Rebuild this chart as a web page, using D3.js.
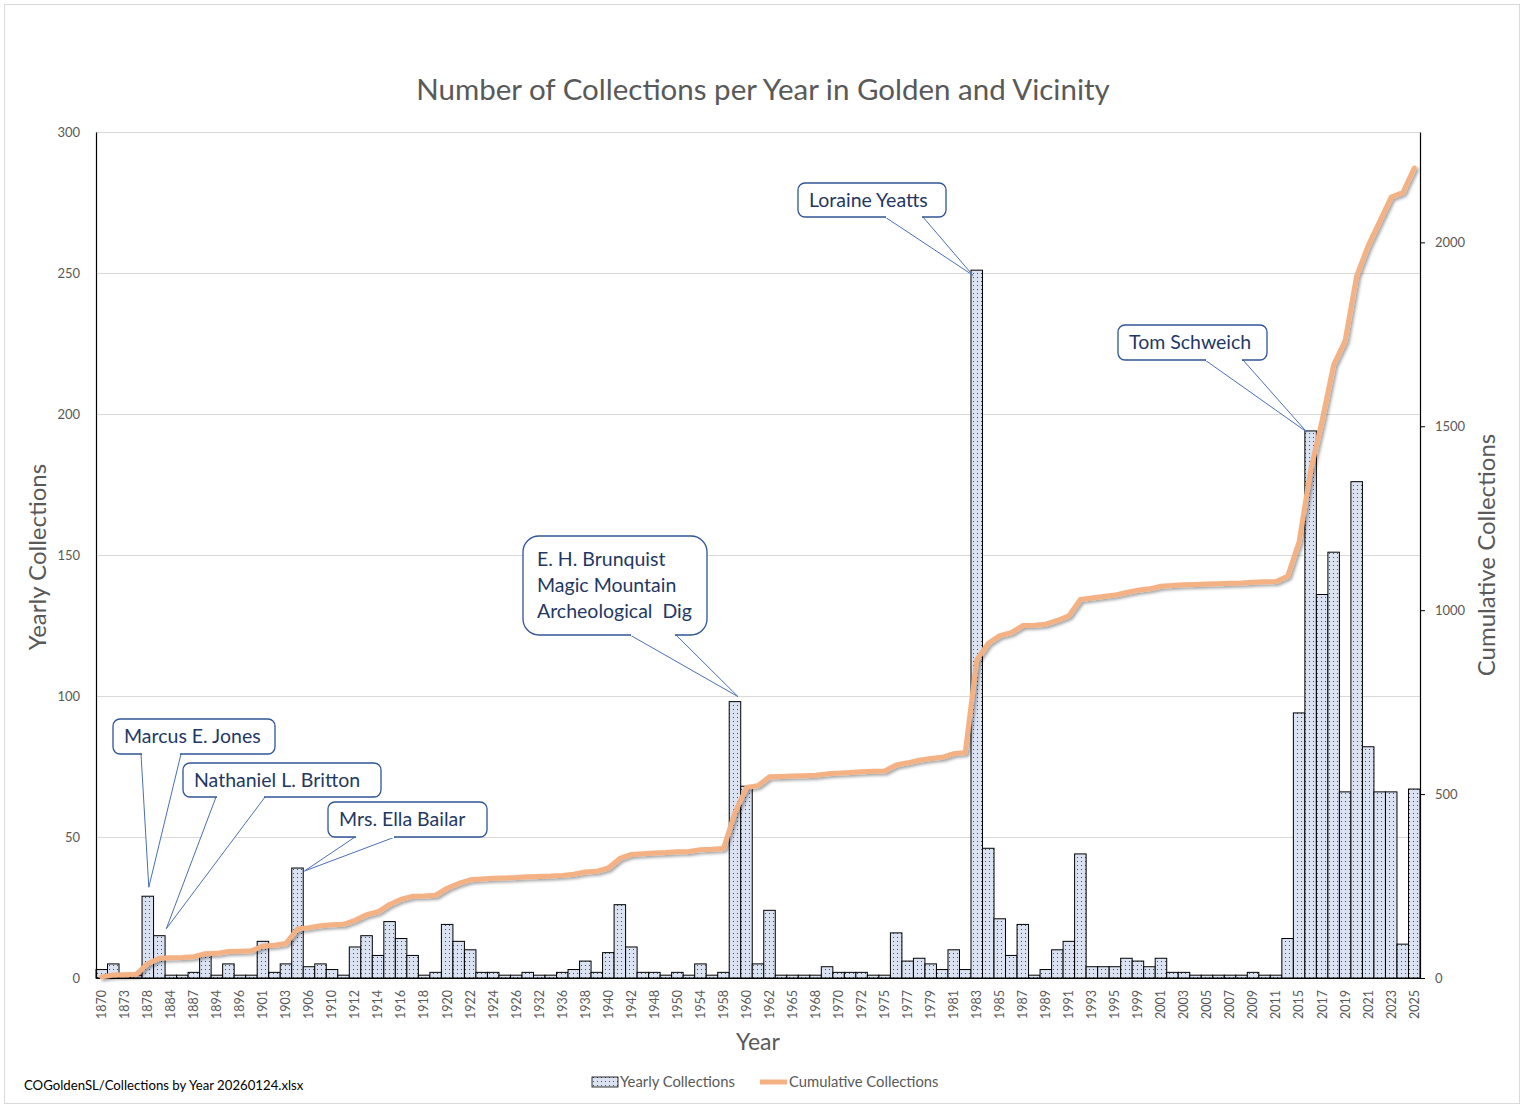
<!DOCTYPE html>
<html>
<head>
<meta charset="utf-8">
<script src="https://cdn.jsdelivr.net/npm/d3@7"></script>
<style>
  html, body { margin: 0; padding: 0; background: #fff; }
  svg { display: block; font-family: Lato, "Noto Sans", sans-serif; }
  text { white-space: pre; }
</style>
</head>
<body>
<script>
// ---------- DATA ----------
const years = [1870,1872,1873,1877,1878,1880,1884,1885,1887,1890,
  1894,1895,1896,1899,1901,1902,1903,1905,1906,1908,
  1910,1911,1912,1913,1914,1915,1916,1917,1918,1919,
  1920,1921,1922,1923,1924,1925,1926,1930,1932,1934,
  1936,1937,1938,1939,1940,1941,1942,1946,1948,1949,
  1950,1952,1954,1956,1958,1959,1960,1961,1962,1963,
  1965,1967,1968,1969,1970,1971,1972,1974,1975,1976,
  1977,1978,1979,1980,1981,1982,1983,1984,1985,1986,
  1987,1988,1989,1990,1991,1992,1993,1994,1995,1997,
  1999,2000,2001,2002,2003,2004,2005,2006,2007,2008,
  2009,2010,2011,2014,2015,2016,2017,2018,2019,2020,
  2021,2022,2023,2024,2025];

const yearlyCollections = [3,5,1,1,29,15,1,1,2,8,
  1,5,1,1,13,2,5,39,4,5,
  3,1,11,15,8,20,14,8,1,2,
  19,13,10,2,2,1,1,2,1,1,
  2,3,6,2,9,26,11,2,2,1,
  2,1,5,1,2,98,68,5,24,1,
  1,1,1,4,2,2,2,1,1,16,
  6,7,5,3,10,3,251,46,21,8,
  19,1,3,10,13,44,4,4,4,7,
  6,4,7,2,2,1,1,1,1,1,
  2,1,1,14,94,194,136,151,66,176,
  82,66,66,12,67];

const cumulativeCollections = Array.from(d3.cumsum(yearlyCollections));

const leftTicks = [0,50,100,150,200,250,300];
const rightTicks = [0,500,1000,1500,2000];

const annotationLabels = [
  {year: 1878, lines: ["Marcus E. Jones"]},
  {year: 1880, lines: ["Nathaniel L. Britton"]},
  {year: 1905, lines: ["Mrs. Ella Bailar"]},
  {year: 1959, lines: ["E. H. Brunquist", "Magic Mountain", "Archeological  Dig"]},
  {year: 1983, lines: ["Loraine Yeatts"]},
  {year: 2016, lines: ["Tom Schweich"]}
];

const titleText = "Number of Collections per Year in Golden and Vicinity";
const footerText = "COGoldenSL/Collections by Year 20260124.xlsx";

// ---------- LAYOUT ----------
const W = 1524, H = 1109;
const plot = {left: 96, right: 1420, top: 132, bottom: 978};

// callout box layout (pixels), same order as annotationLabels
const calloutLayout = [
  {box: [113, 719, 162, 35], base: [141, 181], r: 7, tip: [1, -9]},
  {box: [183, 763, 198, 34], base: [216, 265], r: 7, tip: [7, -7]},
  {box: [328, 802, 159, 35], base: [355, 395], r: 7, tip: [7, 3]},
  {box: [523, 536, 184, 99], base: [630, 676], r: 16, tip: [3, -5]},
  {box: [798, 183, 148, 34], base: [885, 923], r: 7, tip: [-4, 5]},
  {box: [1118, 325, 149, 35], base: [1205, 1243], r: 7, tip: [-4, 1]}
];

const svg = d3.select("body").append("svg")
  .attr("width", W).attr("height", H);

const defs = svg.append("defs");
const pat = defs.append("pattern").attr("id", "dots")
  .attr("patternUnits", "userSpaceOnUse").attr("width", 4).attr("height", 4);
pat.append("rect").attr("width", 4).attr("height", 4).attr("fill", "#dbe3f2");
pat.append("rect").attr("x", 1).attr("y", 1).attr("width", 1).attr("height", 1).attr("fill", "#2f4f82");

const shadow = defs.append("filter").attr("id", "shadow")
  .attr("x", "-5%").attr("y", "-5%").attr("width", "110%").attr("height", "110%");
shadow.append("feDropShadow").attr("dx", 2).attr("dy", 2).attr("stdDeviation", 1.5)
  .attr("flood-color", "#000").attr("flood-opacity", 0.35);

// background + border
svg.append("rect").attr("x", 4.5).attr("y", 4.5).attr("width", 1515).attr("height", 1099)
  .attr("fill", "#fff").attr("stroke", "#d9d9d9").attr("stroke-width", 1);

// scales
const x = d3.scaleBand().domain(years.map(String)).range([plot.left, plot.right]).padding(0);
const yL = d3.scaleLinear().domain([0, 300]).range([plot.bottom, plot.top]);
const yR = d3.scaleLinear().domain([0, 2300]).range([plot.bottom, plot.top]);

// gridlines
svg.append("g").selectAll("line").data(leftTicks.filter(d => d > 0)).join("line")
  .attr("x1", plot.left).attr("x2", plot.right)
  .attr("y1", d => yL(d) + 0.5).attr("y2", d => yL(d) + 0.5)
  .attr("stroke", "#d9d9d9").attr("stroke-width", 1);

// bars
svg.append("g").selectAll("rect").data(years).join("rect")
  .attr("x", d => x(String(d)))
  .attr("y", (d, i) => yL(yearlyCollections[i]))
  .attr("width", x.bandwidth())
  .attr("height", (d, i) => plot.bottom - yL(yearlyCollections[i]))
  .attr("fill", "url(#dots)")
  .attr("stroke", "#000").attr("stroke-width", 1);

// left axis
const axL = svg.append("g").attr("transform", `translate(${plot.left},0)`)
  .call(d3.axisLeft(yL).tickValues(leftTicks).tickSize(0).tickPadding(16));
axL.select(".domain").attr("stroke", "#000").attr("stroke-width", 1.2);
axL.selectAll("text").attr("font-size", 13).attr("fill", "#595959").attr("font-family", "Lato, sans-serif");

// right axis
const axR = svg.append("g").attr("transform", `translate(${plot.right},0)`)
  .call(d3.axisRight(yR).tickValues(rightTicks).tickFormat(d3.format("d"))
    .tickSizeInner(5).tickSizeOuter(0).tickPadding(10));
axR.select(".domain").attr("stroke", "#000").attr("stroke-width", 1.2);
axR.selectAll(".tick line").attr("stroke", "#000");
axR.selectAll("text").attr("font-size", 13).attr("fill", "#595959").attr("font-family", "Lato, sans-serif");

// bottom axis
const axB = svg.append("g").attr("transform", `translate(0,${plot.bottom})`)
  .call(d3.axisBottom(x).tickSize(0).tickValues(years.filter((d, i) => i % 2 === 0).map(String)));
axB.select(".domain").attr("stroke", "#000").attr("stroke-width", 1.2);
axB.selectAll("text")
  .attr("font-size", 12.5).attr("fill", "#595959").attr("font-family", "Lato, sans-serif")
  .attr("text-anchor", "end")
  .attr("transform", "translate(0,12) rotate(-90)")
  .attr("x", 0).attr("y", 0).attr("dy", "0.35em");

// cumulative line
const line = d3.line()
  .x((d, i) => x(String(years[i])) + x.bandwidth() / 2)
  .y(d => yR(d));
svg.append("path").datum(cumulativeCollections)
  .attr("d", line)
  .attr("fill", "none").attr("stroke", "#f4b183").attr("stroke-width", 5)
  .attr("stroke-linejoin", "round").attr("stroke-linecap", "round")
  .attr("filter", "url(#shadow)");

// callouts
annotationLabels.forEach((a, k) => {
  const L = calloutLayout[k];
  const i = years.indexOf(a.year);
  const tx = x(String(a.year)) + x.bandwidth() / 2 + L.tip[0];
  const ty = yL(yearlyCollections[i]) + L.tip[1];
  const [bx, by, bw, bh] = L.box;
  const g = svg.append("g");
  g.append("path")
    .attr("d", `M${L.base[0]},${by + bh}L${tx},${ty}L${L.base[1]},${by + bh}Z`)
    .attr("fill", "#fff").attr("stroke", "#4a6fb5").attr("stroke-width", 1);
  g.append("rect").attr("x", bx).attr("y", by).attr("width", bw).attr("height", bh)
    .attr("rx", L.r).attr("ry", L.r)
    .attr("fill", "#fff").attr("stroke", "#2f5597").attr("stroke-width", 1.3);
  g.append("line").attr("x1", L.base[0] + 1).attr("x2", L.base[1] - 1)
    .attr("y1", by + bh).attr("y2", by + bh).attr("stroke", "#fff").attr("stroke-width", 2);
  const lh = 26;
  const cy = by + bh / 2 - (a.lines.length - 1) * lh / 2;
  a.lines.forEach((t, j) => {
    g.append("text").attr("x", bx + (a.lines.length > 1 ? 14 : 11)).attr("y", cy + j * lh)
      .attr("dy", "0.35em").attr("font-size", 19.5).attr("fill", "#1f3864").text(t);
  });
});

// title
svg.append("text").attr("x", 763).attr("y", 90).attr("dy", "0.35em")
  .attr("text-anchor", "middle").attr("font-size", 29.5).attr("fill", "#595959").text(titleText);

// axis titles
svg.append("text").attr("transform", "translate(38,557) rotate(-90)").attr("dy", "0.35em")
  .attr("text-anchor", "middle").attr("font-size", 24).attr("fill", "#595959").text("Yearly Collections");
svg.append("text").attr("transform", "translate(1487,555) rotate(-90)").attr("dy", "0.35em")
  .attr("text-anchor", "middle").attr("font-size", 24).attr("fill", "#595959").text("Cumulative Collections");
svg.append("text").attr("x", 758).attr("y", 1042).attr("dy", "0.35em")
  .attr("text-anchor", "middle").attr("font-size", 23).attr("fill", "#595959").text("Year");

// legend
svg.append("rect").attr("x", 592).attr("y", 1077).attr("width", 26).attr("height", 10)
  .attr("fill", "url(#dots)").attr("stroke", "#000").attr("stroke-width", 0.8);
svg.append("text").attr("x", 620).attr("y", 1082).attr("dy", "0.35em")
  .attr("font-size", 14.8).attr("fill", "#595959").text("Yearly Collections");
svg.append("line").attr("x1", 760).attr("x2", 787).attr("y1", 1082).attr("y2", 1082)
  .attr("stroke", "#f4b183").attr("stroke-width", 5);
svg.append("text").attr("x", 789).attr("y", 1082).attr("dy", "0.35em")
  .attr("font-size", 14.8).attr("fill", "#595959").text("Cumulative Collections");

// footer
svg.append("text").attr("x", 24).attr("y", 1085).attr("dy", "0.35em")
  .attr("font-size", 13.2).attr("fill", "#000").text(footerText);
</script>
</body>
</html>
